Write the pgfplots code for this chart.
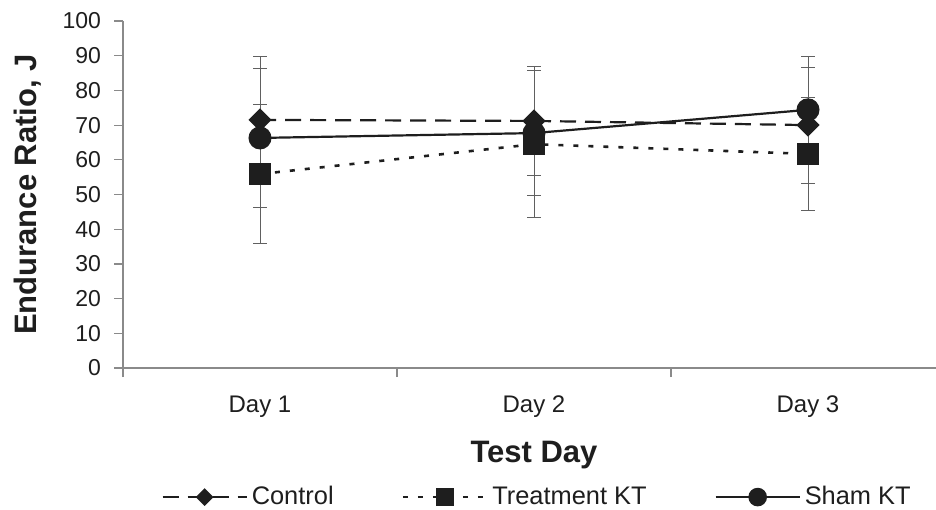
\documentclass[border=0pt]{standalone}
\usepackage{fontspec}
\setmainfont{Liberation Sans}
\usepackage{pgfplots}
\pgfplotsset{compat=1.18}

\definecolor{ink}{HTML}{1E1E1E}
\definecolor{axisgray}{HTML}{8A8A8A}
\definecolor{errgray}{HTML}{606060}

\begin{document}
\begin{tikzpicture}
\useasboundingbox (0,0) rectangle (468pt,254.5pt);
\begin{axis}[
    at={(61.5pt,70.5pt)}, anchor=south west,
    scale only axis,
    width=411pt, height=173.5pt,
    xmin=0.5, xmax=3.5,
    ymin=0, ymax=100,
    axis x line=bottom, axis y line=left,
    axis line style={-, axisgray, line width=0.6pt},
    tick style={axisgray, line width=0.6pt},
    tick align=outside,
    major tick length=4.5pt,
    xtick={0.5,1.5,2.5,3.5},
    x tick label as interval,
    xticklabels={Day 1,Day 2,Day 3},
    ytick={0,10,...,100},
    /pgf/number format/assume math mode=true,
    xticklabel style={font=\fontsize{12}{14}\selectfont, text=ink, yshift=-6pt},
    yticklabel style={font=\fontsize{11.5}{14}\selectfont, text=ink, xshift=-3pt},
    xlabel={Test Day},
    ylabel={Endurance Ratio, J},
    xlabel style={at={(axis description cs:0.5,-0.2507)}, anchor=center,
        font=\bfseries\fontsize{15.5}{18}\selectfont, text=ink},
    ylabel style={at={(axis description cs:-0.1156,0.5)}, anchor=center,
        font=\bfseries\fontsize{15.5}{18}\selectfont, text=ink},
    legend columns=3,
    legend style={at={(axis description cs:0.505,-0.372)}, anchor=center,
        draw=none, fill=none, text=ink,
        font=\fontsize{12.7}{15}\selectfont,
        /tikz/every even column/.append style={column sep=32pt}},
    legend image code/.code={%
        \draw[mark repeat=2,mark phase=2,#1]
        plot coordinates {(0pt,0pt) (21pt,0pt) (42pt,0pt)};},
    every axis plot/.append style={
        error bars/y dir=both, error bars/y explicit,
        error bars/error bar style={errgray, line width=0.5pt, solid},
        error bars/error mark options={rotate=90, mark size=3.3pt, errgray, line width=0.5pt, solid}},
]

% Control
\addplot[ink, line width=1.1pt, dash pattern=on 8pt off 4.5pt,
    mark=square*, mark size=3.55pt, mark options={solid, rotate=45, fill=ink},
    legend image post style={mark size=2.6pt}]
    coordinates {
    (1,71.5) +- (0,18.4)
    (2,71.2) +- (0,15.7)
    (3,70.0) +- (0,16.7)
    };
\addlegendentry{Control}

% Treatment KT
\addplot[ink, line width=1.3pt, dash pattern=on 2.5pt off 5pt,
    mark=square*, mark size=5pt, mark options={solid, fill=ink},
    legend image post style={mark size=3.7pt}]
    coordinates {
    (1,55.9) +- (0,19.9)
    (2,64.5) +- (0,21.2)
    (3,61.7) +- (0,16.3)
    };
\addlegendentry{Treatment KT}

% Sham KT
\addplot[ink, line width=1.1pt,
    mark=*, mark size=5.2pt, mark options={solid, fill=ink},
    legend image post style={mark size=4.1pt}]
    coordinates {
    (1,66.3) +- (0,20.0)
    (2,67.7) +- (0,18.0)
    (3,74.4) +- (0,15.4)
    };
\addlegendentry{Sham KT}

\end{axis}
\end{tikzpicture}
\end{document}
